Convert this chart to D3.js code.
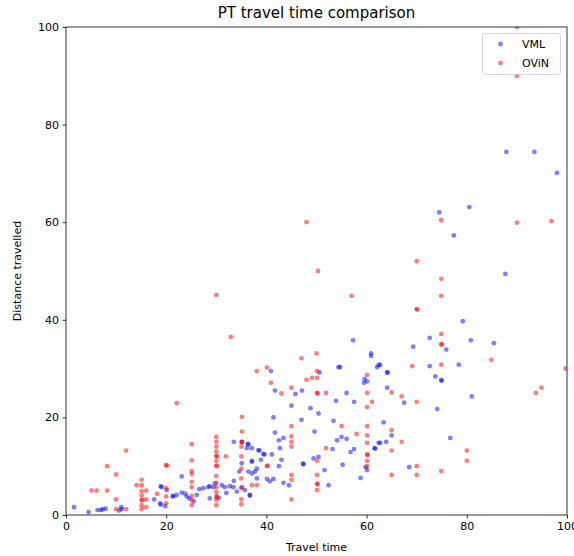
<!DOCTYPE html>
<html>
<head>
<meta charset="utf-8">
<script src="https://cdn.jsdelivr.net/npm/d3@7"></script>
<style>
  body { margin: 0; background: #fff; }
  text { font-family: "DejaVu Sans", sans-serif; fill: #000; }
</style>
</head>
<body>
<div id="chart"></div>
<script>
/* PT travel time comparison - scatter of VML vs OViN trips */

const seriesNames = ["VML", "OViN"];
const xTicks = [0, 20, 40, 60, 80, 100];
const yTicks = [0, 20, 40, 60, 80, 100];

// [travel time, distance travelled]
const vml = [
  [87.9,74.4],[93.5,74.4],[98,70.1],[74.5,62],[80.5,63.1],[77.4,57.3],[87.7,49.4],[79.2,39.7],
  [72.6,36.3],[80.8,35.8],[85.4,35.2],[69.3,34.5],[75.9,33.9],[62.7,30.8],[72.6,30.5],[78.4,30.8],
  [64.1,29.2],[73.7,28.4],[74.9,27.7],[75,27.5],[64.1,26.1],[67.5,23],[81,24.3],[74.1,21.7],
  [63.4,19],[65,16.3],[62.7,14.8],[63.9,15],[76.7,15.8],[68.5,9.8],
  [57.3,35.8],[60.9,33.1],[60.9,32.6],[54.7,30.3],[62.4,30.7],[62.1,30.3],[64.2,29.2],[59.6,27.9],
  [59.5,27.1],[60.1,27.4],[56,25],[57.5,23.2],[55,16],[56,15.6],[62.4,14.8],[57.5,13.5],
  [56.8,12.9],[61.6,13.7],[61.7,13.6],[59.8,9.8],[60.1,9.2],[55.2,10.3],[58.8,7.6],
  [40.9,29.5],[41.7,25.5],[45.8,24.8],[47.1,25.5],[50.6,29.2],[54.4,30.3],[53.9,23.4],[45,22.4],
  [48.8,21.9],[50.4,20.8],[41.4,20],[47,19.5],[53.4,19.3],[41.7,16.9],[49.6,17.1],[42.5,15.3],
  [43.4,15.8],[54.1,15.3],[42.7,13.7],[53.2,13.5],[37.1,13.7],[38.6,13.2],[39.6,12.4],[39.4,12.5],
  [41.1,12.4],[49.4,11.6],[50.4,11.9],[38.9,11.3],[43,11.3],[37.1,11.1],[42.5,10],[47.3,10.5],
  [47.4,10.4],[38.1,9.5],[51.6,9.2],[37.1,8.5],[40.1,7.4],[40.7,6.9],[41.4,7.4],[43.4,6.6],
  [44.5,6.1],[52.4,6.1],[36.7,4],
  [33.5,15],[35.1,15],[36.3,14.5],[36.1,13.7],[36.4,14.5],[38.4,13.3],[23.1,7.9],[33.5,7],
  [34.6,8.9],[35.1,10.6],[37.1,10.9],[36.4,8.9],[37.7,8.9],[38.1,7.5],[36.7,4.1],[19.1,5.7],
  [20.1,5.1],[21.3,3.8],[21.4,3.9],[22.1,4.1],[23.1,4.6],[23.8,4.4],[24.1,3.8],[24.6,3.4],
  [26.1,4.1],[26.6,5.3],[27.4,5.5],[28.4,5.7],[28.7,5.9],[29.7,6.5],[29.4,5.7],[31.1,6.1],
  [31.7,5.7],[32.7,5.9],[33.4,5.7],[28.7,3.4],[34.1,4.8],[35.7,5.1],[35.1,5.7],[18.8,2.4],
  [19.8,1.8],[30.5,3.5],[25.5,2.8],[32,4.5],
  [1.6,1.6],[4.5,0.6],[6.3,1],[7,1],[7.3,1.2],[7.9,1.3],[11,1.6],[10.6,0.9],
  [11.1,1.2],[18.9,5.9],[17.6,3.2],[18.9,2.1]
];

const ovin = [
  [90,100],[90,90],[74.9,60.4],[90,59.9],[96.9,60.2],[48,60],[70,52],[50.3,50],
  [74.9,48.4],[74.9,44.9],[30,45.1],[57,44.9],[70,42.2],[70.1,42.1],[74.9,37.1],[32.9,36.5],
  [74.9,35],[75,34.9],[84.9,31.8],[69.1,30.5],[74.9,30.8],[99.7,30],[65,25.1],[67,24.3],
  [70,23.2],[94.9,26.1],[93.8,25],[65,17.4],[67,15],[80,13.2],[65,13.2],[80,11.1],
  [70,10],[65,8.2],[70,8.2],[74.9,9],
  [60.1,28.7],[60.1,25],[60.1,22.1],[61.1,23.2],[55,18.2],[60.1,18.2],[58,16.6],[60.1,16.3],
  [60.1,14.8],[60.1,12.4],[60.2,12.3],[60.1,11.1],[60.1,10],
  [40.1,30.2],[38.1,29.5],[40.9,27.1],[43,24.9],[45,26.1],[48,27.7],[49.1,28.1],[50.1,28.1],
  [50.1,29.5],[50.1,25],[50.2,24.9],[51.9,25],[45,18.2],[45,16.1],[45,15],[45,14],
  [51.9,13.7],[50.1,11.1],[40.1,10],[40.2,10.1],[50.1,8.2],[45,8.2],[45,7.2],[50.1,6.4],
  [50.2,6.3],[50.1,5.1],[37.1,6.1],[38.1,6.1],[45,3.2],[50,33.1],[47,32.1],
  [30,16],[30,15],[30,14],[30,13],[30,12.1],[30.1,12],[30,11.1],[30,10.1],
  [30.1,10],[30,8],[30,6.6],[30,5.7],[30,4.7],[30,3.8],[30.1,3.7],[30,3.1],
  [30,2],[31.9,12],[22.1,22.9],
  [35.1,20.1],[35.1,17.1],[35.1,15],[35.1,14.9],[35,14],[35,12],[35,9.5],[35,7.5],
  [35,5.5],[35,3.2],[35,2.2],
  [25.1,14.5],[25.1,11.2],[25.1,9],[25.1,8.4],[25.1,6.8],[25.1,5.7],[25.1,3.9],[25.1,3.1],
  [25.1,2],[20,10.2],[20.1,10.1],
  [12,13.2],[8.2,10],[10,8.3],[5.1,5],[6.1,5],[8.2,5],[10,3.2],[10,1.2],
  [12,1.2],[15.1,7.2],[15.1,6.1],[15.1,4.9],[15.1,4],[15.1,3.1],[15.2,3],[15.1,2],
  [15.1,1.2],[14.1,6.1],[16,5],[16,3.2],[16,1.6],[18.2,4.3],[20,5.5],[20,3.8],
  [20,2.4]
];

const width = 574,
  height = 556,
  margin = ({ top: 27, right: 7, bottom: 41, left: 66 });

let svg = d3.select("#chart")
  .append("svg")
  .attr("width", width)
  .attr("height", height);

let x = d3.scaleLinear()
  .domain([0, 100])
  .range([margin.left, width - margin.right]);

let y = d3.scaleLinear()
  .domain([0, 100])
  .range([height - margin.bottom, margin.top]);

// clip so points at the edge get cut like matplotlib
svg.append("clipPath")
  .attr("id", "plot-area")
  .append("rect")
  .attr("x", margin.left)
  .attr("y", margin.top)
  .attr("width", width - margin.left - margin.right)
  .attr("height", height - margin.top - margin.bottom);

let dots = svg.append("g").attr("clip-path", "url(#plot-area)");

dots.selectAll(".vml")
  .data(vml)
  .join("circle")
  .attr("class", "vml")
  .attr("cx", d => x(d[0]))
  .attr("cy", d => y(d[1]))
  .attr("r", 2.4)
  .attr("fill", "blue")
  .attr("fill-opacity", 0.5);

dots.selectAll(".ovin")
  .data(ovin)
  .join("circle")
  .attr("class", "ovin")
  .attr("cx", d => x(d[0]))
  .attr("cy", d => y(d[1]))
  .attr("r", 2.4)
  .attr("fill", "red")
  .attr("fill-opacity", 0.5);

/* axes */
let xAxis = svg.append("g")
  .attr("transform", `translate(0,${height - margin.bottom})`)
  .call(d3.axisBottom(x).tickValues(xTicks).tickSize(3.5).tickPadding(3.5));

let yAxis = svg.append("g")
  .attr("transform", `translate(${margin.left},0)`)
  .call(d3.axisLeft(y).tickValues(yTicks).tickSize(3.5).tickPadding(3.5));

[xAxis, yAxis].forEach(a => {
  a.select(".domain").remove();
  a.selectAll("line").attr("stroke", "#000").attr("stroke-width", 0.8);
  a.selectAll("text")
    .style("font-family", "DejaVu Sans")
    .style("font-size", "11px")
    .attr("fill", "#000");
});

// axes frame
svg.append("rect")
  .attr("x", margin.left)
  .attr("y", margin.top)
  .attr("width", width - margin.left - margin.right)
  .attr("height", height - margin.top - margin.bottom)
  .attr("fill", "none")
  .attr("stroke", "#000")
  .attr("stroke-width", 0.8);

/* title and labels */
svg.append("text")
  .attr("x", (margin.left + width - margin.right) / 2)
  .attr("y", 18)
  .attr("text-anchor", "middle")
  .style("font-size", "15px")
  .text("PT travel time comparison");

svg.append("text")
  .attr("x", (margin.left + width - margin.right) / 2)
  .attr("y", 551)
  .attr("text-anchor", "middle")
  .style("font-size", "11px")
  .text("Travel time");

svg.append("text")
  .attr("transform", "rotate(-90)")
  .attr("x", -(margin.top + height - margin.bottom) / 2)
  .attr("y", 21)
  .attr("text-anchor", "middle")
  .style("font-size", "11px")
  .text("Distance travelled");

/* legend */
let legend = svg.append("g");

legend.append("rect")
  .attr("x", 482.5)
  .attr("y", 33.5)
  .attr("width", 78)
  .attr("height", 41)
  .attr("rx", 2.5)
  .attr("fill", "#fff")
  .attr("fill-opacity", 0.8)
  .attr("stroke", "#ccc")
  .attr("stroke-width", 0.8);

let colors = ["blue", "red"];
let item = legend.selectAll(".item")
  .data(seriesNames)
  .join("g")
  .attr("class", "item")
  .attr("transform", (d, i) => `translate(0,${44 + i * 19})`);

item.append("circle")
  .attr("cx", 500.5)
  .attr("cy", 0)
  .attr("r", 2.4)
  .attr("fill", (d, i) => colors[i])
  .attr("fill-opacity", 0.5);

item.append("text")
  .attr("x", 522)
  .attr("y", 4)
  .style("font-size", "11px")
  .text(d => d);
</script>
</body>
</html>
